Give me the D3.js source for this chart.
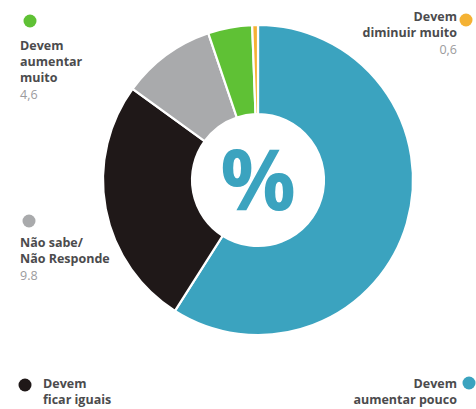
<!DOCTYPE html>
<html>
<head>
<meta charset="utf-8">
<script src="https://cdn.jsdelivr.net/npm/d3@7"></script>
<style>
  html, body { margin: 0; padding: 0; background: #fff; }
  svg { display: block; }
  text { font-family: "Open Sans", "Noto Sans", sans-serif; }
</style>
</head>
<body>
<svg id="chart" width="476" height="409"></svg>
<script>
// Opinion shares (%), drawn clockwise from 12 o'clock
const categories = [
  "Devem aumentar pouco",
  "Devem ficar iguais",
  "Não sabe/Não Responde",
  "Devem aumentar muito",
  "Devem diminuir muito"
];
const values = [59.0, 26.0, 9.8, 4.6, 0.6];
const colors = ["#3ba3bf", "#1f1818", "#a9aaac", "#5fc135", "#f4b234"];

// Legend blocks: label lines and printed value (blank where not printed)
const labelLines = [
  ["Devem", "aumentar pouco"],
  ["Devem", "ficar iguais"],
  ["Não sabe/", "Não Responde"],
  ["Devem", "aumentar", "muito"],
  ["Devem", "diminuir muito"]
];
const valueLabels = ["", "", "9.8", "4,6", "0,6"];

const svg = d3.select("#chart");
const cx = 258, cy = 180;
const outerR = 155, innerR = 66;

const pie = d3.pie().value(d => d).sort(null);
const arc = d3.arc().innerRadius(innerR).outerRadius(outerR);

const g = svg.append("g").attr("transform", `translate(${cx},${cy})`);
g.selectAll("path")
  .data(pie(values))
  .join("path")
  .attr("d", arc)
  .attr("fill", (d, i) => colors[i])
  .attr("stroke", "#fff")
  .attr("stroke-width", 2.2)
  .attr("stroke-linejoin", "miter");

g.append("text")
  .attr("text-anchor", "middle")
  .attr("y", 30)
  .attr("font-size", 84)
  .attr("font-weight", 700)
  .attr("fill", "#3ba3bf")
  .text("%");

// Legend placement: [dot x, dot y, text x, first baseline, anchor]
const legendPos = [
  { dx: 469, dy: 383, tx: 457, ty: 388, anchor: "end" },
  { dx: 25, dy: 385, tx: 43, ty: 388, anchor: "start" },
  { dx: 29, dy: 221, tx: 20, ty: 247, anchor: "start" },
  { dx: 30, dy: 21, tx: 20, ty: 50, anchor: "start" },
  { dx: 466, dy: 20, tx: 457, ty: 21, anchor: "end" }
];
const lineH = 16;

categories.forEach((c, i) => {
  const p = legendPos[i];
  svg.append("circle")
    .attr("cx", p.dx).attr("cy", p.dy).attr("r", 6.5)
    .attr("fill", colors[i]);
  const lines = labelLines[i];
  lines.forEach((t, k) => {
    svg.append("text")
      .attr("x", p.tx).attr("y", p.ty + k * lineH)
      .attr("text-anchor", p.anchor)
      .attr("font-size", 12.5)
      .attr("font-weight", 700)
      .attr("fill", "#4b4b4d")
      .text(t);
  });
  if (valueLabels[i]) {
    svg.append("text")
      .attr("x", p.tx).attr("y", p.ty + lines.length * lineH + 1)
      .attr("text-anchor", p.anchor)
      .attr("font-size", 12.5)
      .attr("fill", "#9b9b9d")
      .text(valueLabels[i]);
  }
});
</script>
</body>
</html>
